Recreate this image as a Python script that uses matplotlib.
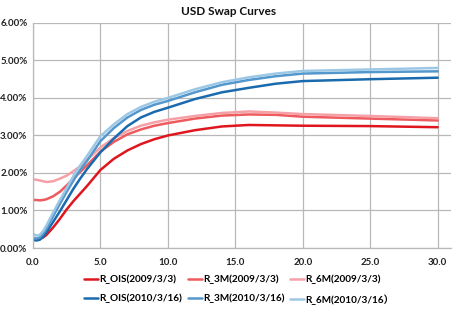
import matplotlib
matplotlib.use("Agg")
import matplotlib.pyplot as plt
from matplotlib.ticker import FuncFormatter

plt.rcParams['font.family'] = ['Lato', 'Noto Sans CJK SC', 'DejaVu Sans']

tenor = [0, 0.25, 0.5, 0.75, 1, 1.5, 2, 2.5, 3, 3.5, 4, 5, 6, 7, 8, 9, 10, 12, 14, 16, 18, 20, 25, 30]

ois_2009 = [0.25, 0.23, 0.24, 0.28, 0.35, 0.55, 0.78, 1.03, 1.25, 1.45, 1.65, 2.08, 2.38, 2.60, 2.77, 2.90, 3.00, 3.14, 3.24, 3.28, 3.27, 3.26, 3.25, 3.22]
m3_2009 = [1.28, 1.28, 1.27, 1.28, 1.30, 1.38, 1.50, 1.67, 1.85, 2.03, 2.20, 2.57, 2.83, 3.03, 3.16, 3.26, 3.33, 3.45, 3.53, 3.56, 3.55, 3.50, 3.45, 3.40]
m6_2009 = [1.83, 1.82, 1.80, 1.78, 1.76, 1.78, 1.85, 1.93, 2.05, 2.18, 2.35, 2.68, 2.93, 3.12, 3.26, 3.35, 3.42, 3.52, 3.60, 3.64, 3.61, 3.57, 3.52, 3.46]
ois_2010 = [0.22, 0.20, 0.22, 0.30, 0.42, 0.70, 0.98, 1.28, 1.58, 1.85, 2.10, 2.55, 2.92, 3.25, 3.48, 3.63, 3.74, 3.97, 4.15, 4.27, 4.38, 4.45, 4.50, 4.54]
m3_2010 = [0.27, 0.25, 0.28, 0.38, 0.52, 0.85, 1.18, 1.50, 1.80, 2.08, 2.32, 2.85, 3.20, 3.48, 3.68, 3.82, 3.92, 4.15, 4.35, 4.48, 4.58, 4.65, 4.69, 4.71]
m6_2010 = [0.38, 0.33, 0.35, 0.45, 0.60, 0.95, 1.28, 1.60, 1.92, 2.20, 2.45, 2.98, 3.30, 3.57, 3.76, 3.90, 4.00, 4.23, 4.42, 4.55, 4.65, 4.72, 4.76, 4.80]

labels = ["R_OIS(2009/3/3)", "R_3M(2009/3/3)", "R_6M(2009/3/3)",
          "R_OIS(2010/3/16)", "R_3M(2010/3/16)", "R_6M(2010/3/16）"]
series = [ois_2009, m3_2009, m6_2009, ois_2010, m3_2010, m6_2010]
colors = ["#e0161f", "#ee5a5e", "#f5a0a6", "#1a6aae", "#5497cd", "#9cc8e6"]

fig = plt.figure(figsize=(4.58, 3.10), dpi=100)
ax = fig.add_axes([0.072, 0.2, 0.913, 0.726])

lines = []
for vals, lab, col in zip(series, labels, colors):
    ln, = ax.plot(tenor, vals, color=col, lw=1.8, label=lab, solid_capstyle='round')
    lines.append(ln)

ax.set_xlim(0, 31)
ax.set_ylim(0, 6)
ax.set_xticks([0, 5, 10, 15, 20, 25, 30])
ax.set_yticks([0, 1, 2, 3, 4, 5, 6])
ax.xaxis.set_major_formatter(FuncFormatter(lambda v, p: f"{v:.1f}"))
ax.yaxis.set_major_formatter(FuncFormatter(lambda v, p: f"{v:.2f}%"))
ax.grid(True, color="#b8b8b8", lw=0.9)
ax.set_axisbelow(True)
for s in ["top", "right"]:
    ax.spines[s].set_visible(False)
for s in ["left", "bottom"]:
    ax.spines[s].set_color("#b8b8b8")
    ax.spines[s].set_linewidth(0.9)
ax.tick_params(axis='y', length=0, labelsize=7, pad=4)
ax.tick_params(axis='x', length=0, labelsize=7, pad=7)
for t in ax.get_xticklabels() + ax.get_yticklabels():
    t.set_fontweight("bold")
    t.set_color("#222222")

fig.text(0.5, 0.962, "USD Swap Curves", ha="center", va="center",
         fontsize=8.5, fontweight="bold", color="#111111")

order = [0, 3, 1, 4, 2, 5]
leg = fig.legend([lines[i] for i in order], [labels[i] for i in order],
                 ncol=3, frameon=False, loc="center", bbox_to_anchor=(0.522, 0.066),
                 handlelength=1.4, handletextpad=0.1, columnspacing=0.6,
                 labelspacing=1.0, prop={'size': 7.2, 'weight': 'bold'})

fig.savefig("out.png", dpi=100)
